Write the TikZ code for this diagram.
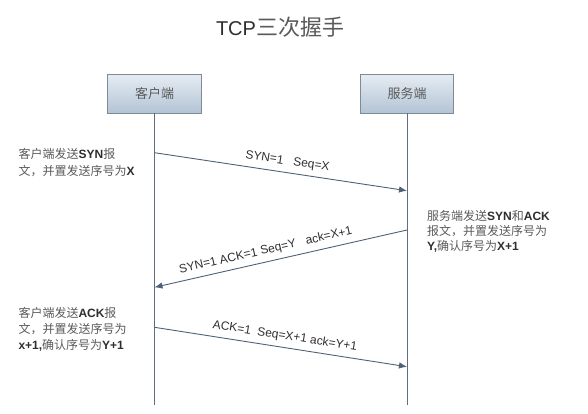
\documentclass[tikz,border=0pt]{standalone}
\usepackage{fontspec}
\setmainfont{Liberation Sans}
\newfontfamily\cjk{Noto Sans CJK SC}
\usetikzlibrary{arrows.meta}
\definecolor{linec}{HTML}{4F6275}
\definecolor{lifec}{HTML}{5E6E7E}
\definecolor{boxtop}{HTML}{E6ECF3}
\definecolor{boxbot}{HTML}{B3C4D5}
\definecolor{boxdraw}{HTML}{7E8B97}
\definecolor{txtc}{HTML}{2E2E2E}
\definecolor{cjkc}{HTML}{5A5A5A}
\newcommand\zh[1]{{\cjk\color{cjkc}#1}}
\newcommand\lt[1]{{\bfseries\color{txtc}#1}}
\tikzset{
  actor/.style={draw=boxdraw, line width=0.9pt, top color=boxtop, bottom color=boxbot,
    minimum width=93.5pt, minimum height=39pt, inner sep=0pt,
    font=\fontsize{13}{15}\selectfont},
  life/.style={draw=lifec, line width=0.9pt},
  msg/.style={draw=linec, line width=0.9pt, -{Latex[length=8pt,width=6.5pt]}},
  msglabel/.style={sloped, above=5pt, inner sep=0pt, text=txtc, font=\fontsize{12}{14}\selectfont},
  side/.style={anchor=west, align=left, inner sep=0pt},
}
\begin{document}
\begin{tikzpicture}[x=1pt,y=-1pt]
\useasboundingbox (0,0) rectangle (588,413);
% title
\node (title) at (280,27) {\fontsize{20}{24}\selectfont{\color{txtc}TCP}{\cjk\color{cjkc}\fontsize{22}{24}\selectfont 三次握手}};
% lifelines
\coordinate (cEnd) at (154.5,405);
\coordinate (sEnd) at (407,405);
\node[actor] (client) at (154.5,93.5) {\zh{客户端}};
\node[actor] (server) at (407,93.5) {\zh{服务端}};
\draw[life] (client.south) -- (cEnd);
\draw[life] (server.south) -- (sEnd);
% message points
\coordinate (c1) at (154.5,152.7);
\coordinate (s1) at (407,190.7);
\coordinate (s2) at (407,230);
\coordinate (c2) at (154.5,287.3);
\coordinate (c3) at (154.5,327.3);
\coordinate (s3) at (407,366.7);
\draw[msg] (c1) -- (s1) node[msglabel, pos=0.52] (l1) {SYN=1\ \ \ Seq=X};
\draw[msg] (s2) -- (c2) node[msglabel, pos=0.55] (l2) {SYN=1 ACK=1 Seq=Y\ \ \ ack=X+1};
\draw[msg] (c3) -- (s3) node[msglabel, pos=0.51] (l3) {ACK=1\ \ Seq=X+1 ack=Y+1};
% side texts
\node[side, font=\fontsize{12}{16.7}\selectfont] (t1) at (18.5,162.3)
  {\zh{客户端发送}\lt{SYN}\zh{报}\\\zh{文，并置发送序号为}\lt{X}};
\node[side, font=\fontsize{12}{15}\selectfont] (t2) at (427,231.8)
  {\zh{服务端发送}\lt{SYN}\zh{和}\lt{ACK}\\\zh{报文，并置发送序号为}\\\lt{Y,}\zh{确认序号为}\lt{X+1}};
\node[side, font=\fontsize{12}{16}\selectfont] (t3) at (18.3,329.1)
  {\zh{客户端发送}\lt{ACK}\zh{报}\\\zh{文，并置发送序号为}\\\lt{x+1,}\zh{确认序号为}\lt{Y+1}};
\end{tikzpicture}
\end{document}
